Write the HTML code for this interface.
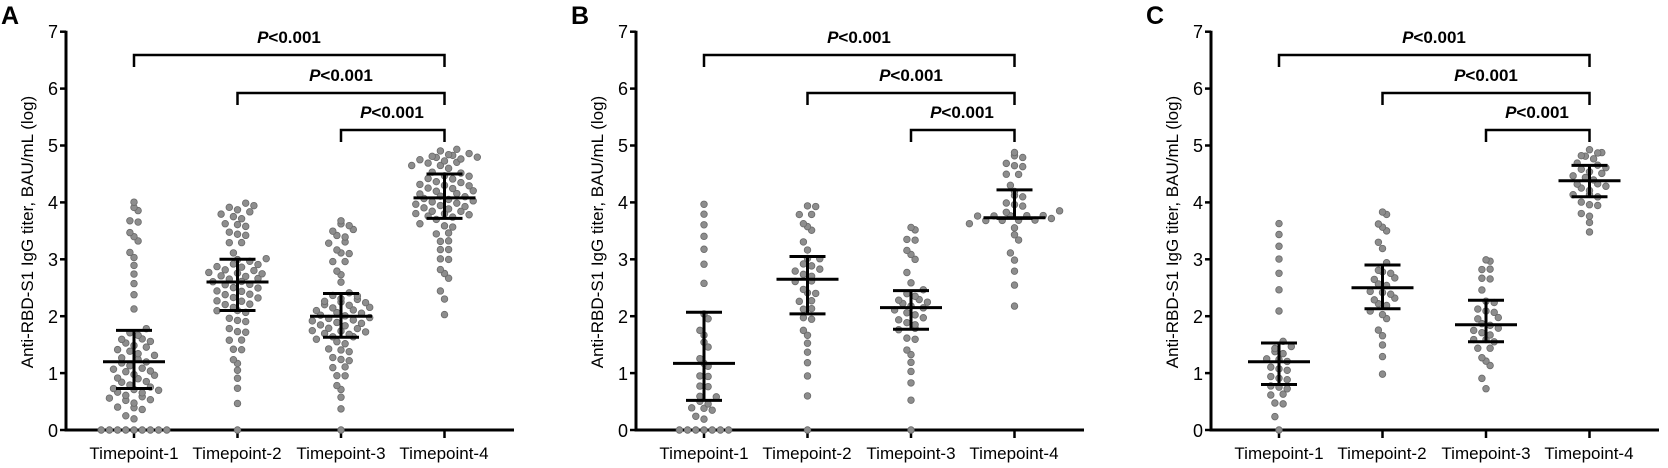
<!DOCTYPE html>
<html><head><meta charset="utf-8"><style>
html,body{margin:0;padding:0;background:#fff;}
svg{display:block;font-family:"Liberation Sans",Arial,sans-serif;}
.t{font-size:18px;fill:#000;}
.xl{font-size:17px;fill:#000;text-anchor:middle;}
.yl{font-size:17px;fill:#000;text-anchor:middle;}
.p{font-size:17px;font-weight:bold;fill:#000;text-anchor:middle;}
.L{font-size:25px;font-weight:bold;fill:#000;}
</style></head><body>
<svg id="s" width="1668" height="468" viewBox="0 0 1668 468" xmlns="http://www.w3.org/2000/svg">
<g id="pA" transform="translate(0,0)">
<text class="L" x="1" y="24">A</text>
<text class="yl" transform="translate(33,232) rotate(-90)">Anti-RBD-S1 IgG titer, BAU/mL (log)</text>
<text class="t" x="58" y="437" text-anchor="end">0</text><text class="t" x="58" y="380" text-anchor="end">1</text><text class="t" x="58" y="323" text-anchor="end">2</text><text class="t" x="58" y="266" text-anchor="end">3</text><text class="t" x="58" y="209" text-anchor="end">4</text><text class="t" x="58" y="152" text-anchor="end">5</text><text class="t" x="58" y="95" text-anchor="end">6</text><text class="t" x="58" y="38" text-anchor="end">7</text>
<text class="xl" x="134" y="459">Timepoint-1</text><text class="xl" x="237" y="459">Timepoint-2</text><text class="xl" x="341" y="459">Timepoint-3</text><text class="xl" x="444" y="459">Timepoint-4</text>
<text class="p" x="289" y="43"><tspan font-style="italic">P</tspan>&lt;0.001</text>
<text class="p" x="341" y="81"><tspan font-style="italic">P</tspan>&lt;0.001</text>
<text class="p" x="392" y="118"><tspan font-style="italic">P</tspan>&lt;0.001</text>
</g>
<g id="pB" transform="translate(570,0)">
<text class="L" x="1" y="24">B</text>
<text class="yl" transform="translate(33,232) rotate(-90)">Anti-RBD-S1 IgG titer, BAU/mL (log)</text>
<text class="t" x="58" y="437" text-anchor="end">0</text><text class="t" x="58" y="380" text-anchor="end">1</text><text class="t" x="58" y="323" text-anchor="end">2</text><text class="t" x="58" y="266" text-anchor="end">3</text><text class="t" x="58" y="209" text-anchor="end">4</text><text class="t" x="58" y="152" text-anchor="end">5</text><text class="t" x="58" y="95" text-anchor="end">6</text><text class="t" x="58" y="38" text-anchor="end">7</text>
<text class="xl" x="134" y="459">Timepoint-1</text><text class="xl" x="237" y="459">Timepoint-2</text><text class="xl" x="341" y="459">Timepoint-3</text><text class="xl" x="444" y="459">Timepoint-4</text>
<text class="p" x="289" y="43"><tspan font-style="italic">P</tspan>&lt;0.001</text>
<text class="p" x="341" y="81"><tspan font-style="italic">P</tspan>&lt;0.001</text>
<text class="p" x="392" y="118"><tspan font-style="italic">P</tspan>&lt;0.001</text>
</g>
<g id="pC" transform="translate(1145,0)">
<text class="L" x="1" y="24">C</text>
<text class="yl" transform="translate(33,232) rotate(-90)">Anti-RBD-S1 IgG titer, BAU/mL (log)</text>
<text class="t" x="58" y="437" text-anchor="end">0</text><text class="t" x="58" y="380" text-anchor="end">1</text><text class="t" x="58" y="323" text-anchor="end">2</text><text class="t" x="58" y="266" text-anchor="end">3</text><text class="t" x="58" y="209" text-anchor="end">4</text><text class="t" x="58" y="152" text-anchor="end">5</text><text class="t" x="58" y="95" text-anchor="end">6</text><text class="t" x="58" y="38" text-anchor="end">7</text>
<text class="xl" x="134" y="459">Timepoint-1</text><text class="xl" x="237" y="459">Timepoint-2</text><text class="xl" x="341" y="459">Timepoint-3</text><text class="xl" x="444" y="459">Timepoint-4</text>
<text class="p" x="289" y="43"><tspan font-style="italic">P</tspan>&lt;0.001</text>
<text class="p" x="341" y="81"><tspan font-style="italic">P</tspan>&lt;0.001</text>
<text class="p" x="392" y="118"><tspan font-style="italic">P</tspan>&lt;0.001</text>
</g>
</svg>
<script>
(function(){
var NS="http://www.w3.org/2000/svg";
function el(p,t,a){var e=document.createElementNS(NS,t);for(var k in a)e.setAttribute(k,a[k]);p.appendChild(e);return e;}
var Y0=430,U=56.9, X=[134,237.5,341,444.5];
function Y(v){return Y0-v*U;}
var P={
pA:[[70,0,0.73,1.2,1.75,4.05,9],[70,0,2.1,2.6,3.0,4.0,1],[70,0,1.63,2.0,2.4,3.7,1],[70,1.6,3.72,4.08,4.5,4.9,0]],
pB:[[36,0,0.52,1.17,2.07,4.05,7],[36,0,2.04,2.65,3.05,4.0,1],[36,0,1.77,2.15,2.45,3.6,1],[36,1.6,3.72,3.73,4.22,4.9,0]],
pC:[[30,0,0.8,1.2,1.53,3.72,1],[30,0.5,2.13,2.5,2.9,3.87,0],[30,0.38,1.55,1.85,2.28,3.02,0],[30,3.22,4.1,4.38,4.65,4.92,0]]
};
for(var id in P){
 var g=document.getElementById(id);
 el(g,'line',{x1:66,y1:Y(7)-1,x2:66,y2:Y0+1.5,stroke:'#000','stroke-width':3});
 el(g,'line',{x1:64.5,y1:Y0,x2:514,y2:Y0,stroke:'#000','stroke-width':3});
 for(var i=0;i<=7;i++)el(g,'line',{x1:60,y1:Y(i),x2:66,y2:Y(i),stroke:'#000','stroke-width':2.5});
 for(var j=0;j<4;j++)el(g,'line',{x1:X[j],y1:Y0,x2:X[j],y2:Y0+8,stroke:'#000','stroke-width':2.5});
 var br=[[0,55],[1,93],[2,130]];
 br.forEach(function(b){el(g,'path',{d:'M'+X[b[0]]+' '+(b[1]+12)+'V'+b[1]+'H'+X[3]+'V'+(b[1]+12),fill:'none',stroke:'#000','stroke-width':2.5});});
 P[id].forEach(function(gr,j){
  var n=gr[0],qs=[gr[1],gr[2],gr[3],gr[4],gr[5]],z=gr[6],vals=[];
  for(var k=0;k<z;k++)vals.push(0);
  var m=n-z;
  for(var k=0;k<m;k++){
   var u=(k+0.5)/m, s=u*4, i2=Math.min(3,Math.floor(s)), f=s-i2;
   var lo=(i2==0&&z>0)?Math.max(qs[0],0.05):qs[i2];
   if(i2==0){f=Math.pow(f,0.45);}
   if(i2==3){f=Math.pow(f,0.6);}
   vals.push(lo+(qs[i2+1]-lo)*f);
  }
  var rows={};
  vals.forEach(function(v){var r=Math.round(v/0.17);(rows[r]=rows[r]||[]).push(v);});
  for(var r in rows){
   var arr=rows[r];
   arr.forEach(function(v,k){
    var off=(k-(arr.length-1)/2)*8.2;
    var yy=(arr.length>1 && v>0)? (v+(k%2?0.04:-0.04)) : v;
    el(g,'circle',{cx:X[j]+off,cy:Y(yy),r:3.3,fill:'#8d8d8d',stroke:'#6a6a6a','stroke-width':0.8});
   });
  }
  var w=31;
  el(g,'line',{x1:X[j]-w,y1:Y(gr[3]),x2:X[j]+w,y2:Y(gr[3]),stroke:'#000','stroke-width':3});
  el(g,'line',{x1:X[j],y1:Y(gr[2]),x2:X[j],y2:Y(gr[4]),stroke:'#000','stroke-width':3});
  el(g,'line',{x1:X[j]-18,y1:Y(gr[2]),x2:X[j]+18,y2:Y(gr[2]),stroke:'#000','stroke-width':3});
  el(g,'line',{x1:X[j]-18,y1:Y(gr[4]),x2:X[j]+18,y2:Y(gr[4]),stroke:'#000','stroke-width':3});
 });
}
})();
</script>
</body></html>
